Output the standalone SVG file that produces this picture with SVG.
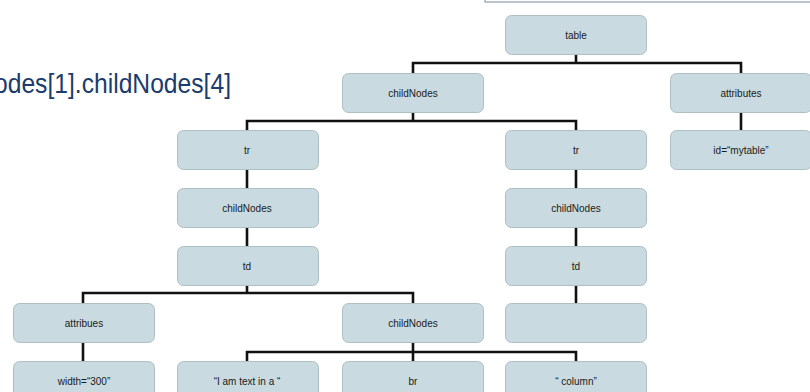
<svg xmlns="http://www.w3.org/2000/svg" width="810" height="392" viewBox="0 0 810 392">
<style>
.n rect{fill:#c9dbe0;stroke:#aebfc4;stroke-width:1}
.n text{font-family:"Liberation Sans",Arial,sans-serif;font-size:10px;fill:#1a1a1a;text-anchor:middle}
.c path{fill:none;stroke:#111;stroke-width:2.6;stroke-linejoin:miter}
</style>
<rect x="485" y="-20" width="340" height="22" fill="#fff" stroke="#8c9db2" stroke-width="1.2"/>
<text x="-6" y="93" font-family="'Liberation Sans',Arial,sans-serif" font-size="28" fill="#1b3c6c" textLength="237" lengthAdjust="spacingAndGlyphs">odes[1].childNodes[4]</text>
<g class="c">
<path d="M576 54V63M413 73V63H741V73"/>
<path d="M413 112V121M247 130V121H576V130"/>
<path d="M741 112V130"/>
<path d="M247 169V188M247 227V246"/>
<path d="M576 169V188M576 227V246"/>
<path d="M247 285V293M83 303V293H413V303"/>
<path d="M576 285V303"/>
<path d="M83 342V361"/>
<path d="M413 342V361M247 361V352H576V361"/>
</g>
<g id="table" class="n"><rect x="505.5" y="15.5" width="141" height="39" rx="6"/><text x="576" y="38.5">table</text></g>
<g id="childNodes1" class="n"><rect x="342.5" y="73.5" width="141" height="39" rx="6"/><text x="413" y="96.5">childNodes</text></g>
<g id="attributes" class="n"><rect x="670.5" y="73.5" width="141" height="39" rx="6"/><text x="741" y="96.5">attributes</text></g>
<g id="tr1" class="n"><rect x="177.5" y="130.5" width="141" height="39" rx="6"/><text x="247" y="153.5">tr</text></g>
<g id="tr2" class="n"><rect x="505.5" y="130.5" width="141" height="39" rx="6"/><text x="576" y="153.5">tr</text></g>
<g id="idmytable" class="n"><rect x="670.5" y="130.5" width="141" height="39" rx="6"/><text x="741" y="153.5">id=“mytable”</text></g>
<g id="childNodes2" class="n"><rect x="177.5" y="188.5" width="141" height="39" rx="6"/><text x="247" y="211.5">childNodes</text></g>
<g id="childNodes3" class="n"><rect x="505.5" y="188.5" width="141" height="39" rx="6"/><text x="576" y="211.5">childNodes</text></g>
<g id="td1" class="n"><rect x="177.5" y="246.5" width="141" height="39" rx="6"/><text x="247" y="269.5">td</text></g>
<g id="td2" class="n"><rect x="505.5" y="246.5" width="141" height="39" rx="6"/><text x="576" y="269.5">td</text></g>
<g id="attribues" class="n"><rect x="13.5" y="303.5" width="141" height="39" rx="6"/><text x="84" y="326.5">attribues</text></g>
<g id="childNodes4" class="n"><rect x="342.5" y="303.5" width="141" height="39" rx="6"/><text x="413" y="326.5">childNodes</text></g>
<g id="empty" class="n"><rect x="505.5" y="303.5" width="141" height="39" rx="6"/></g>
<g id="width300" class="n"><rect x="13.5" y="361.5" width="141" height="39" rx="6"/><text x="84" y="384.5">width=“300”</text></g>
<g id="text1" class="n"><rect x="177.5" y="361.5" width="141" height="39" rx="6"/><text x="247" y="384.5">“I am text in a “</text></g>
<g id="br" class="n"><rect x="342.5" y="361.5" width="141" height="39" rx="6"/><text x="413" y="384.5">br</text></g>
<g id="column" class="n"><rect x="505.5" y="361.5" width="141" height="39" rx="6"/><text x="576" y="384.5">“ column”</text></g>
</svg>
